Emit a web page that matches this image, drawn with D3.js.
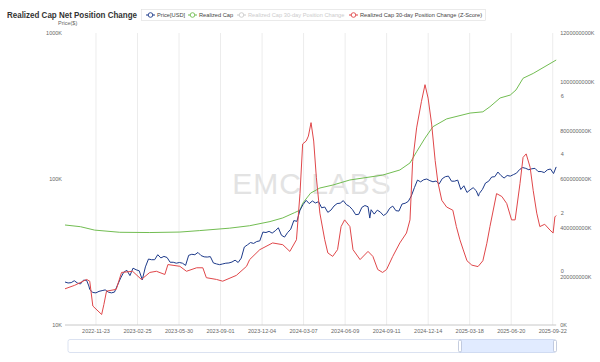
<!DOCTYPE html>
<html><head><meta charset="utf-8">
<script src="https://cdn.jsdelivr.net/npm/d3@7"></script>
<style>
body{margin:0;background:#fff;}
svg{display:block;font-family:"Liberation Sans",Arial,Helvetica,sans-serif;}
</style>
</head><body>
<svg id="c" width="600" height="362"></svg>
<script>
// ---------- DATA ----------
const titleText = "Realized Cap Net Position Change";
const legendLabels = ["Price[USD]", "Realized Cap", "Realized Cap 30-day Position Change", "Realized Cap 30-day Position Change (Z-Score)"];
const xTickLabels = ["2022-11-23","2023-02-25","2023-05-30","2023-09-01","2023-12-04","2024-03-07","2024-06-09","2024-09-11","2024-12-14","2025-03-18","2025-06-20","2025-09-22"];
const priceTicks = [10000, 100000, 1000000];
const capTicks = [0, 200000000, 400000000, 600000000, 800000000, 1000000000, 1200000000];
const zTicks = [0, 2, 4, 6];

const priceDates = ["2022-09-15","2022-09-22","2022-09-29","2022-10-06","2022-10-13","2022-10-20","2022-10-27","2022-11-03","2022-11-08","2022-11-10","2022-11-17","2022-11-24","2022-12-01","2022-12-08","2022-12-15","2022-12-22","2022-12-29","2023-01-05","2023-01-12","2023-01-19","2023-01-26","2023-02-02","2023-02-09","2023-02-16","2023-02-23","2023-03-02","2023-03-09","2023-03-16","2023-03-23","2023-03-30","2023-04-06","2023-04-13","2023-04-20","2023-04-27","2023-05-04","2023-05-11","2023-05-18","2023-05-25","2023-06-01","2023-06-08","2023-06-15","2023-06-22","2023-06-29","2023-07-06","2023-07-13","2023-07-20","2023-07-27","2023-08-03","2023-08-10","2023-08-17","2023-08-24","2023-08-31","2023-09-07","2023-09-14","2023-09-21","2023-09-28","2023-10-05","2023-10-12","2023-10-19","2023-10-26","2023-11-02","2023-11-09","2023-11-16","2023-11-23","2023-11-30","2023-12-07","2023-12-14","2023-12-21","2023-12-28","2024-01-04","2024-01-11","2024-01-18","2024-01-25","2024-02-01","2024-02-08","2024-02-15","2024-02-22","2024-02-29","2024-03-07","2024-03-14","2024-03-21","2024-03-28","2024-04-04","2024-04-11","2024-04-18","2024-04-25","2024-05-02","2024-05-09","2024-05-16","2024-05-23","2024-05-30","2024-06-06","2024-06-13","2024-06-20","2024-06-27","2024-07-04","2024-07-11","2024-07-18","2024-07-25","2024-08-01","2024-08-05","2024-08-08","2024-08-15","2024-08-22","2024-08-29","2024-09-05","2024-09-12","2024-09-19","2024-09-26","2024-10-03","2024-10-10","2024-10-17","2024-10-24","2024-10-31","2024-11-07","2024-11-14","2024-11-21","2024-11-28","2024-12-05","2024-12-12","2024-12-19","2024-12-26","2025-01-02","2025-01-09","2025-01-16","2025-01-23","2025-01-30","2025-02-06","2025-02-13","2025-02-20","2025-02-27","2025-03-06","2025-03-13","2025-03-20","2025-03-27","2025-04-03","2025-04-08","2025-04-10","2025-04-17","2025-04-24","2025-05-01","2025-05-08","2025-05-15","2025-05-22","2025-05-29","2025-06-05","2025-06-12","2025-06-19","2025-06-26","2025-07-03","2025-07-10","2025-07-17","2025-07-24","2025-07-31","2025-08-07","2025-08-14","2025-08-21","2025-08-28","2025-09-04","2025-09-11","2025-09-18","2025-09-25","2025-10-01"];
const priceValues = [19700,19400,19500,20100,19400,19100,20300,20200,18500,17500,16700,16600,17000,17200,17400,16800,16600,16800,18800,21000,23000,23700,21800,24500,23900,23500,20400,25000,28300,28000,28000,30300,28800,29500,29000,26900,26900,26500,26800,26500,25600,30000,30500,30300,31400,29900,29300,29200,29400,26600,26200,25900,26200,26500,26600,27000,27800,26800,28700,34200,35400,36700,36200,37300,37700,43300,43000,43800,42600,44200,46300,41200,40000,43000,45300,51900,51300,61200,66900,71400,67800,70700,68500,70000,63500,64300,59100,61200,65300,67900,68300,71100,66800,64900,61600,57000,57300,63900,65800,64600,54000,61600,57500,61200,59300,56200,58100,63000,65200,60700,60300,67400,68200,70200,76500,87200,98300,95600,98800,100000,97400,95700,96900,92500,100500,103700,104700,96600,96600,98300,84700,89900,80900,84200,87200,83100,76300,79600,84900,93900,96500,103200,103700,111600,105600,101500,105700,104600,107100,109600,116000,119800,118300,115700,117500,118300,112500,112500,110700,115500,117100,109000,121000];

const capDates = ["2022-09-15","2022-10-20","2022-11-21","2023-01-17","2023-03-26","2023-06-02","2023-07-17","2023-09-23","2023-11-07","2023-12-23","2024-01-21","2024-02-17","2024-02-29","2024-03-06","2024-03-24","2024-04-14","2024-05-13","2024-06-21","2024-09-03","2024-10-12","2024-11-04","2024-11-19","2024-12-08","2024-12-26","2025-01-26","2025-03-20","2025-04-18","2025-05-04","2025-05-27","2025-06-19","2025-07-02","2025-07-18","2025-08-10","2025-10-01"];
const capValues = [411000000,404000000,390000000,381000000,380000000,382000000,388000000,398000000,408000000,425000000,440000000,462000000,472000000,500000000,542000000,563000000,575000000,596000000,616000000,637000000,666000000,712000000,768000000,815000000,847000000,871000000,876000000,897000000,933000000,945000000,966000000,1014000000,1034000000,1089000000];

const zDates = ["2022-09-15","2022-10-07","2022-11-03","2022-11-10","2022-11-17","2022-12-07","2022-12-12","2022-12-18","2023-01-09","2023-01-21","2023-02-15","2023-03-07","2023-03-26","2023-04-10","2023-04-29","2023-05-06","2023-06-02","2023-06-17","2023-07-10","2023-07-24","2023-08-01","2023-08-24","2023-09-07","2023-10-08","2023-10-31","2023-11-07","2023-11-30","2023-12-29","2024-01-21","2024-02-06","2024-02-21","2024-02-29","2024-03-06","2024-03-14","2024-03-19","2024-03-25","2024-03-31","2024-04-06","2024-04-14","2024-04-25","2024-05-02","2024-05-13","2024-05-24","2024-06-01","2024-06-09","2024-06-21","2024-06-28","2024-07-14","2024-08-01","2024-08-12","2024-08-23","2024-09-03","2024-09-12","2024-09-26","2024-10-12","2024-10-27","2024-11-04","2024-11-10","2024-11-19","2024-11-30","2024-12-08","2024-12-15","2024-12-23","2024-12-31","2025-01-06","2025-01-15","2025-01-26","2025-02-09","2025-02-17","2025-02-25","2025-03-04","2025-03-13","2025-03-24","2025-04-07","2025-04-18","2025-04-27","2025-05-04","2025-05-19","2025-05-31","2025-06-11","2025-06-22","2025-06-30","2025-07-11","2025-07-18","2025-07-25","2025-08-03","2025-08-10","2025-08-18","2025-08-25","2025-09-05","2025-09-17","2025-09-24","2025-09-28","2025-10-01"];
const zValues = [-0.76,-0.64,-0.44,-0.5,-1.35,-1.64,-1.3,-0.84,-0.78,-0.2,-0.16,-0.44,-0.2,-0.16,-0.27,0.07,0.01,-0.16,-0.04,-0.04,-0.38,-0.44,-0.5,-0.3,0.01,0.24,0.58,0.81,0.75,0.52,0.92,2.5,4.2,4.3,4.47,4.93,4.3,3.06,1.83,0.92,0.47,0.35,0.58,1.37,1.6,1.37,0.58,0.24,0.52,0.35,-0.1,-0.2,-0.1,0.35,0.81,1.15,1.6,3.6,4.75,5.66,6.23,5.77,4.88,3.63,2.9,2.27,2.04,1.93,1.37,0.92,0.6,0.2,0.05,0.0,0.2,0.8,1.37,2.5,2.4,2.16,1.6,1.6,2.84,3.74,3.86,3.4,2.6,1.83,1.37,1.45,1.25,1.15,1.7,1.75];

// ---------- CHART ----------
const parse = d3.timeParse("%Y-%m-%d");
const svg = d3.select("#c");
const L = 65, R = 556.2, T = 33, B = 325;

const x = d3.scaleTime().domain([parse("2022-09-15"), parse("2025-10-01")]).range([L, R]);
const yP = d3.scaleLog().domain([1e4, 1e6]).range([B, T]);
const yC = d3.scaleLinear().domain([0, 1.2e9]).range([B, T]);
const yZ = d3.scaleLinear().domain([-2, 8]).range([B, T]);

// watermark
svg.append("text").attr("x", 312).attr("y", 194).attr("text-anchor", "middle")
  .attr("font-size", 30).attr("fill", "#e3e3e3").attr("letter-spacing", 1).text("EMC LABS");

// vertical grid
const tickDates = xTickLabels.map(parse);
svg.append("g").attr("transform", `translate(0,${B})`)
  .call(d3.axisBottom(x).tickValues(tickDates).tickSize(-(B - T)).tickFormat(""))
  .call(g => g.select(".domain").remove())
  .call(g => g.selectAll("line").attr("stroke", "#ececec"));

// x axis
svg.append("g").attr("transform", `translate(0,${B})`)
  .call(d3.axisBottom(x).tickValues(tickDates).tickSize(0).tickPadding(4).tickFormat(d3.timeFormat("%Y-%m-%d")))
  .call(g => g.select(".domain").attr("stroke", "#c8c8c8").attr("d", `M${L},0H${R}`))
  .call(g => g.selectAll("text").attr("font-size", 5.5).attr("fill", "#666").attr("font-family", null));

// left axis
svg.append("g").attr("transform", `translate(${L},0)`)
  .call(d3.axisLeft(yP).tickValues(priceTicks).tickSize(0).tickPadding(3).tickFormat(d => (d / 1000) + "K"))
  .call(g => g.select(".domain").remove())
  .call(g => g.selectAll("text").attr("font-size", 5.5).attr("fill", "#666").attr("font-family", null));
svg.append("text").attr("x", 58).attr("y", 25).attr("font-size", 5.5).attr("fill", "#666").text("Price($)");

// right axes
svg.append("g").attr("transform", `translate(${R},0)`)
  .call(d3.axisRight(yC).tickValues(capTicks).tickSize(0).tickPadding(4).tickFormat(d => d + "K"))
  .call(g => g.select(".domain").remove())
  .call(g => g.selectAll("text").attr("font-size", 5.5).attr("fill", "#666").attr("font-family", null));
svg.append("g").attr("transform", `translate(${R},0)`)
  .call(d3.axisRight(yZ).tickValues(zTicks).tickSize(0).tickPadding(4.5))
  .call(g => g.select(".domain").remove())
  .call(g => g.selectAll("text").attr("font-size", 5.5).attr("fill", "#666").attr("font-family", null).attr("dy", "1.1em"));

// lines
const capData = capDates.map((d, i) => [parse(d), capValues[i]]);
const priceData = priceDates.map((d, i) => [parse(d), priceValues[i]]);
const zData = zDates.map((d, i) => [parse(d), zValues[i]]);

svg.append("path").datum(capData).attr("fill", "none").attr("stroke", "#72bd52").attr("stroke-width", 1)
  .attr("d", d3.line().x(d => x(d[0])).y(d => yC(d[1])));
svg.append("path").datum(priceData).attr("fill", "none").attr("stroke", "#1d3a8a").attr("stroke-width", 1)
  .attr("d", d3.line().x(d => x(d[0])).y(d => yP(d[1])));
svg.append("path").datum(zData).attr("fill", "none").attr("stroke", "#e0474a").attr("stroke-width", 1)
  .attr("d", d3.line().x(d => x(d[0])).y(d => yZ(d[1])));

// title
svg.append("text").attr("x", 7).attr("y", 18).attr("font-size", 8.2).attr("font-weight", "bold")
  .attr("fill", "#333").attr("textLength", 130).attr("lengthAdjust", "spacingAndGlyphs").text(titleText);

// legend
const legColors = ["#1d3a8a", "#72bd52", "#cccccc", "#e0474a"];
const legX = [146, 188, 237, 349];
svg.append("rect").attr("x", 141.5).attr("y", 9.5).attr("width", 344).attr("height", 11)
  .attr("fill", "#fff").attr("stroke", "#ddd").attr("stroke-width", 0.6);
legendLabels.forEach((lab, i) => {
  const g = svg.append("g").attr("transform", `translate(${legX[i]},15)`);
  g.append("line").attr("x1", 0).attr("x2", 9).attr("stroke", legColors[i]).attr("stroke-width", 1);
  g.append("circle").attr("cx", 4.5).attr("r", 2.3).attr("fill", "#fff").attr("stroke", legColors[i]).attr("stroke-width", 0.9);
  g.append("text").attr("x", 11).attr("y", 2).attr("font-size", 5.7)
    .attr("fill", i === 2 ? "#ccc" : "#444").text(lab);
});

// data zoom slider
const sz = svg.append("g");
sz.append("rect").attr("x", 68).attr("y", 339.5).attr("width", 487).attr("height", 13).attr("rx", 2)
  .attr("fill", "none").attr("stroke", "#d2dbee").attr("stroke-width", 0.8);
sz.append("rect").attr("x", 460).attr("y", 339.5).attr("width", 95).attr("height", 13)
  .attr("fill", "rgba(135,175,274,0.25)").attr("stroke", "none");
[460, 555].forEach(hx => {
  sz.append("rect").attr("x", hx - 1.5).attr("y", 340).attr("width", 3).attr("height", 12).attr("rx", 1.5)
    .attr("fill", "#fff").attr("stroke", "#acb8d1").attr("stroke-width", 0.7);
});
</script>
</body></html>
